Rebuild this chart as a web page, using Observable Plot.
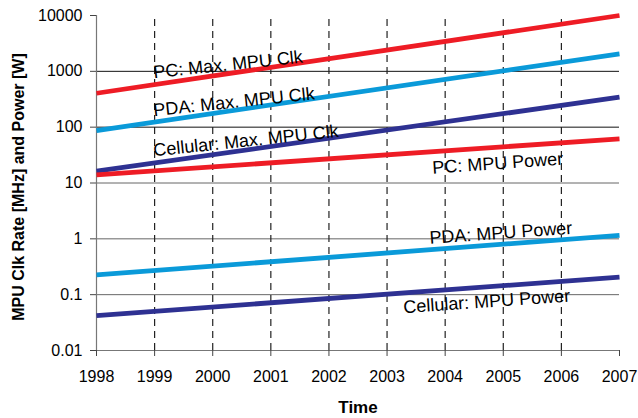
<!DOCTYPE html>
<html>
<head>
<meta charset="utf-8">
<script src="https://cdn.jsdelivr.net/npm/d3@7"></script>
<script src="https://cdn.jsdelivr.net/npm/@observablehq/plot@0.6"></script>
<style>
  html, body { margin: 0; padding: 0; background: #fff; }
  svg { font-family: "Liberation Sans", Arial, sans-serif; }
</style>
</head>
<body>
<div id="chart"></div>
<script>
// Data (endpoints of straight lines on log scale)
const years = [1998, 2007];
const pcClk = [405, 10000];
const pdaClk = [87, 2060];
const cellClk = [16.3, 344];
const pcPower = [14.0, 61.8];
const pdaPower = [0.226, 1.15];
const cellPower = [0.0423, 0.206];

const seriesNames = ["PC: Max. MPU Clk", "PDA: Max. MPU Clk", "Cellular: Max. MPU Clk",
                     "PC: MPU Power", "PDA: MPU Power", "Cellular: MPU Power"];
const seriesValues = [pcClk, pdaClk, cellClk, pcPower, pdaPower, cellPower];
const seriesColors = ["#ee1c25", "#0a9ad9", "#2e3192", "#ee1c25", "#0a9ad9", "#2e3192"];

// Label placement (data coords) and angle
const labelX = [1998.98, 1998.98, 1998.98, 2003.78, 2003.73, 2003.28];
const labelY = [953, 199, 38, 18.6, 1.035, 0.059];
const labelAngle = [-6, -6, -6, -4, -4, -4];

const yTicks = [0.01, 0.1, 1, 10, 100, 1000, 10000];
const xTicks = [1998, 1999, 2000, 2001, 2002, 2003, 2004, 2005, 2006, 2007];
const gridDark = [100, 1000];
const gridLight = [0.1, 1, 10];
const dashYears = [1999, 2000, 2001, 2002, 2003, 2004, 2005, 2006];

const yTitle = "MPU Clk Rate [MHz] and Power [W]";
const xTitle = "Time";

const lineData = seriesNames.flatMap((name, i) =>
  years.map((yr, j) => ({series: name, year: yr, value: seriesValues[i][j], color: seriesColors[i]})));
const labelData = seriesNames.map((name, i) => ({text: name, x: labelX[i], y: labelY[i], angle: labelAngle[i]}));

const lineMarks = seriesNames.map((name, i) =>
  Plot.line(lineData.filter(d => d.series === name), {
    x: "year", y: "value", stroke: seriesColors[i], strokeWidth: 4.8, strokeLinecap: "butt"
  }));

const labelMarks = labelData.map(d =>
  Plot.text([d], {x: "x", y: "y", text: "text", rotate: d.angle, textAnchor: "start",
    lineAnchor: "middle", fontSize: 18, fill: "#000"}));

const chart = Plot.plot({
  width: 638,
  height: 418,
  marginLeft: 96,
  marginRight: 19,
  marginTop: 15,
  marginBottom: 68,
  x: {domain: [1998, 2007], label: null},
  y: {type: "log", domain: [0.01, 10000], label: null},
  marks: [
    Plot.ruleY(gridLight, {stroke: "#666", strokeWidth: 1}),
    Plot.ruleY(gridDark, {stroke: "#111", strokeWidth: 1}),
    Plot.ruleX(dashYears, {y1: 0.01, y2: 10000, stroke: "#222", strokeWidth: 1.2, strokeDasharray: "7,5"}),
    Plot.ruleX([1998], {stroke: "#777", strokeWidth: 1.2}),
    Plot.ruleY([0.01], {stroke: "#777", strokeWidth: 1.2}),
    Plot.axisY({ticks: yTicks, tickFormat: d3.format("~g"), tickSize: 6, tickPadding: 8,
      fontSize: 16, stroke: "#444", label: null}),
    Plot.axisX({ticks: xTicks, tickFormat: d => String(d), tickSize: 6, tickPadding: 14,
      fontSize: 16, stroke: "#444", label: null}),
    ...lineMarks,
    ...labelMarks,
    Plot.text([yTitle], {frameAnchor: "left", textAnchor: "middle", lineAnchor: "middle",
      rotate: -90, dx: -78, dy: 4, fontWeight: "bold", fontSize: 16, fill: "#000"}),
    Plot.text([xTitle], {frameAnchor: "bottom", textAnchor: "middle", lineAnchor: "middle", dy: 57,
      fontWeight: "bold", fontSize: 17, fill: "#000"})
  ]
});
document.getElementById("chart").appendChild(chart);
</script>
</body>
</html>
